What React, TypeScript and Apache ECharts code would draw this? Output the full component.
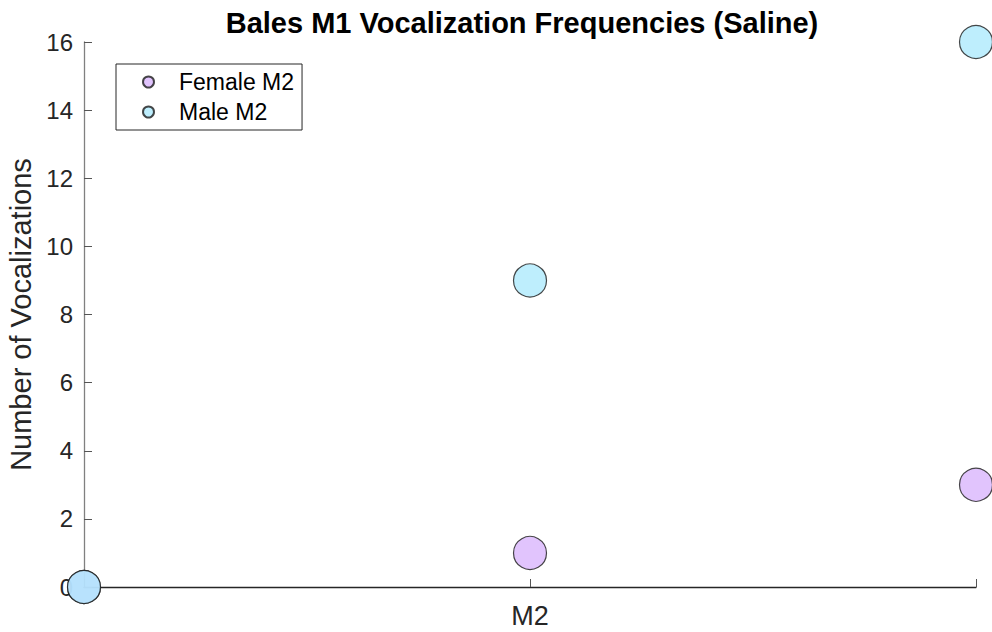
import React, { useEffect, useRef } from "react";
import * as echarts from "echarts";

const xCategories = ["", "M2", ""];
const xPositions = [0, 1, 2];
const femaleValues = [0, 1, 3];
const maleValues = [0, 9, 16];
const yTicks = [0, 2, 4, 6, 8, 10, 12, 14, 16];
const titleText = "Bales M1 Vocalization Frequencies (Saline)";
const yAxisName = "Number of Vocalizations";
const seriesNames = ["Female M2", "Male M2"];

const FONT = "'Liberation Sans', Arial, Helvetica, sans-serif";

export default function App() {
  const ref = useRef<HTMLDivElement>(null);
  useEffect(() => {
    if (!ref.current) return;
    const chart = echarts.init(ref.current, undefined, { renderer: "svg" });
    const pair = (vals: number[]) => xPositions.map((x, i) => [x, vals[i]]);
    chart.setOption({
      animation: false,
      backgroundColor: "#ffffff",
      title: {
        text: titleText,
        left: 517,
        textAlign: "center",
        top: 3,
        textStyle: { fontFamily: FONT, fontSize: 29, fontWeight: "bold", color: "#000" },
      },
      legend: {
        orient: "vertical",
        left: 116,
        top: 64,
        borderColor: "#262626",
        borderWidth: 1,
        padding: [6, 8, 6, 26],
        itemGap: 6,
        itemWidth: 11,
        itemHeight: 11,
        icon: "circle",
        textStyle: {
          fontFamily: FONT,
          fontSize: 23,
          lineHeight: 24,
          color: "#000",
          padding: [0, 0, 0, 20],
        },
        data: seriesNames,
      },
      grid: { left: 84, right: 16, top: 42, bottom: 45, containLabel: false, outerBoundsMode: "none" },
      xAxis: {
        type: "value",
        min: 0,
        max: 2,
        interval: 1,
        axisLine: { onZero: false, lineStyle: { color: "#262626", width: 1.3 } },
        axisTick: { inside: true, length: 8, lineStyle: { color: "#555" } },
        axisLabel: {
          fontFamily: FONT,
          fontSize: 27,
          color: "#262626",
          margin: 15,
          formatter: (v: number) => xCategories[Math.round(v)] ?? "",
        },
        splitLine: { show: false },
      },
      yAxis: {
        type: "value",
        min: yTicks[0],
        max: yTicks[yTicks.length - 1],
        interval: 2,
        name: yAxisName,
        nameLocation: "middle",
        nameGap: 46,
        nameTextStyle: { fontFamily: FONT, fontSize: 29, color: "#262626" },
        axisLine: { show: true, lineStyle: { color: "#808080", width: 1.3 } },
        axisTick: { inside: true, length: 8, lineStyle: { color: "#555" } },
        axisLabel: { fontFamily: FONT, fontSize: 24, color: "#262626", margin: 11 },
        splitLine: { show: false },
      },
      series: [
        {
          name: seriesNames[0],
          type: "scatter",
          symbol: "circle",
          symbolSize: 33,
          data: pair(femaleValues),
          itemStyle: { color: "#dab5fc", borderColor: "#1a1a1a", borderWidth: 1.2 },
          z: 3,
        },
        {
          name: seriesNames[1],
          type: "scatter",
          symbol: "circle",
          symbolSize: 33,
          data: pair(maleValues),
          itemStyle: { color: "#aeeafd", borderColor: "#1a1a1a", borderWidth: 1.2 },
          z: 4,
        },
      ],
    });
    return () => chart.dispose();
  }, []);
  return <div ref={ref} style={{ width: 992, height: 632, position: "absolute", left: 0, top: 0 }} />;
}
